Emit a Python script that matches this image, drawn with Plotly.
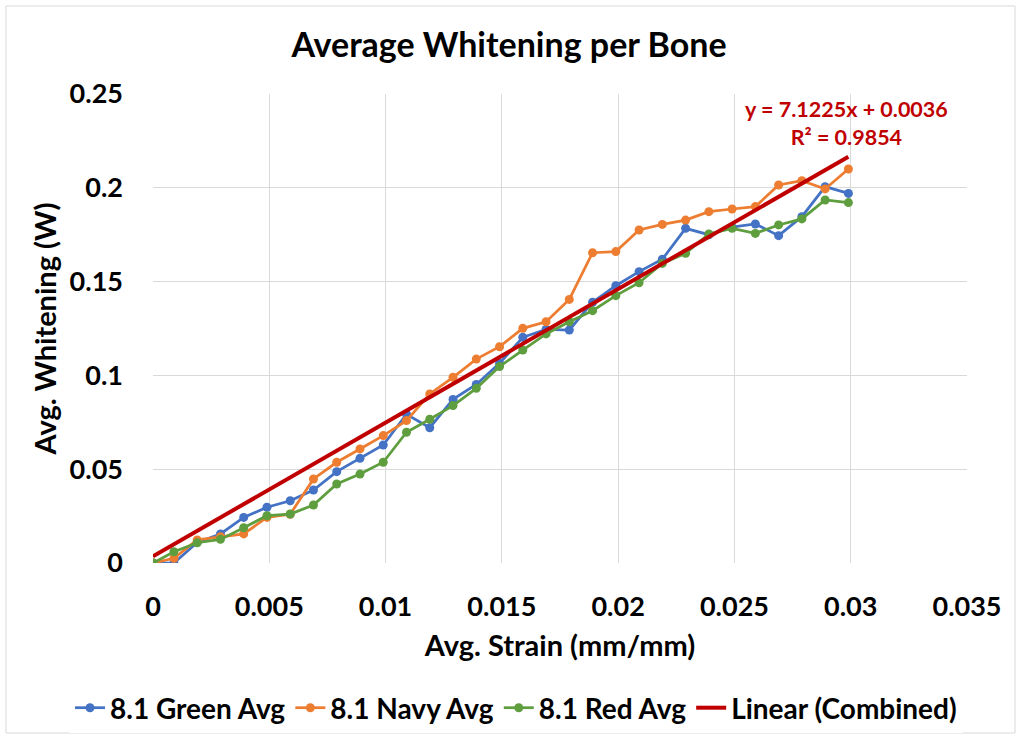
import plotly.graph_objects as go

# Average strain (mm/mm) at each sampled step
strain = [0, 0.0009, 0.0019, 0.0029, 0.0039, 0.0049, 0.0059, 0.0069, 0.0079, 0.0089,
          0.0099, 0.0109, 0.0119, 0.0129, 0.0139, 0.0149, 0.0159, 0.0169, 0.0179, 0.0189,
          0.0199, 0.0209, 0.0219, 0.0229, 0.0239, 0.0249, 0.0259, 0.0269, 0.0279, 0.0289,
          0.0299]

# Average whitening per bone
green_avg = [0, 0, 0.011, 0.0155, 0.0243, 0.0297, 0.0332, 0.0389, 0.0487, 0.0558,
             0.0629, 0.0793, 0.0721, 0.0872, 0.0952, 0.1064, 0.1203, 0.1245, 0.1242, 0.139,
             0.1478, 0.1553, 0.1619, 0.1784, 0.175, 0.179, 0.1807, 0.1745, 0.1846, 0.2006,
             0.197]
navy_avg = [0, 0.0025, 0.0123, 0.014, 0.0155, 0.0243, 0.026, 0.0448, 0.0537, 0.0608,
            0.0679, 0.0759, 0.0901, 0.099, 0.1087, 0.1153, 0.1251, 0.1286, 0.1405, 0.1654,
            0.166, 0.1775, 0.1805, 0.1828, 0.1873, 0.1887, 0.19, 0.2015, 0.2038, 0.1994,
            0.21]
red_avg = [0, 0.006, 0.0108, 0.0126, 0.0188, 0.0252, 0.0261, 0.0309, 0.0421, 0.0474,
           0.0537, 0.0697, 0.0766, 0.0839, 0.0931, 0.1047, 0.1135, 0.1221, 0.1286, 0.1345,
           0.1425, 0.1494, 0.1597, 0.1651, 0.1754, 0.1784, 0.1757, 0.1802, 0.1834, 0.1935,
           0.1921]

# Combined linear fit
slope = 7.1225
intercept = 0.0036
r_squared = 0.9854
fit_x = [strain[0], strain[-1]]
fit_y = [slope * x + intercept for x in fit_x]

x_ticks = [0, 0.005, 0.01, 0.015, 0.02, 0.025, 0.03, 0.035]
x_tick_text = ["0", "0.005", "0.01", "0.015", "0.02", "0.025", "0.03", "0.035"]
y_ticks = [0, 0.05, 0.1, 0.15, 0.2, 0.25]
y_tick_text = ["0", "0.05", "0.1", "0.15", "0.2", "0.25"]

FONT = "Lato"
GRID = "#D9D9D9"

fig = go.Figure()

series = [
    ("8.1 Green Avg", green_avg, "#4472C4"),
    ("8.1 Navy Avg", navy_avg, "#ED7D31"),
    ("8.1 Red Avg", red_avg, "#5E9E3E"),
]
for name, ys, color in series:
    fig.add_trace(go.Scatter(
        x=strain, y=ys, name=name, mode="lines+markers",
        line=dict(color=color, width=2.75),
        marker=dict(color=color, size=9, symbol="circle"),
    ))

fig.add_trace(go.Scatter(
    x=fit_x, y=fit_y, name="Linear (Combined)", mode="lines",
    line=dict(color="#C00000", width=4),
))

fig.add_annotation(
    x=0.0298, y=0.2345, xref="x", yref="y",
    text=f"y = {slope}x + {intercept}<br>R² = {r_squared}",
    showarrow=False, align="center",
    font=dict(family=FONT, size=21.5, color="#C00000", weight="bold"),
)

# light frame around the whole chart
L, R, T, B = 153, 51, 94, 175
W, H = 1018, 738
pw, ph = W - L - R, H - T - B
fig.add_shape(
    type="rect", xref="paper", yref="paper",
    x0=(6 - L) / pw, x1=(1015 - L) / pw,
    y0=((H - B) - 733) / ph, y1=((H - B) - 6) / ph,
    line=dict(color=GRID, width=1), fillcolor="rgba(0,0,0,0)", layer="below",
)

fig.update_layout(
    width=W, height=H,
    margin=dict(l=L, r=R, t=T, b=B, autoexpand=False),
    paper_bgcolor="white", plot_bgcolor="white",
    title=dict(text="Average Whitening per Bone", x=0.5, xref="container",
               y=1 - 45 / H, yanchor="middle",
               font=dict(family=FONT, size=34, color="black", weight="bold")),
    showlegend=True,
    legend=dict(orientation="h", xref="paper", yref="paper",
                x=(70 - L) / pw, xanchor="left",
                y=((H - B) - 708) / ph, yanchor="middle",
                font=dict(family=FONT, size=28, color="black", weight="bold"),
                itemwidth=30, tracegroupgap=0),
    xaxis=dict(
        range=[0, 0.035], tickvals=x_ticks, ticktext=x_tick_text,
        showgrid=True, gridcolor=GRID, gridwidth=1,
        zeroline=False, showline=False, ticks="",
        tickfont=dict(family=FONT, size=27, color="black", weight="bold"),
        ticklabelstandoff=25,
        title=dict(text="Avg. Strain (mm/mm)", standoff=14,
                   font=dict(family=FONT, size=29, color="black", weight="bold")),
    ),
    yaxis=dict(
        range=[0, 0.25], tickvals=y_ticks, ticktext=y_tick_text,
        showgrid=True, gridcolor=GRID, gridwidth=1,
        zeroline=False, showline=False, ticks="",
        tickfont=dict(family=FONT, size=27, color="black", weight="bold"),
        ticklabelstandoff=29,
        title=dict(text="Avg. Whitening (W)", standoff=4,
                   font=dict(family=FONT, size=29, color="black", weight="bold")),
    ),
)

fig.write_html("out.html")
